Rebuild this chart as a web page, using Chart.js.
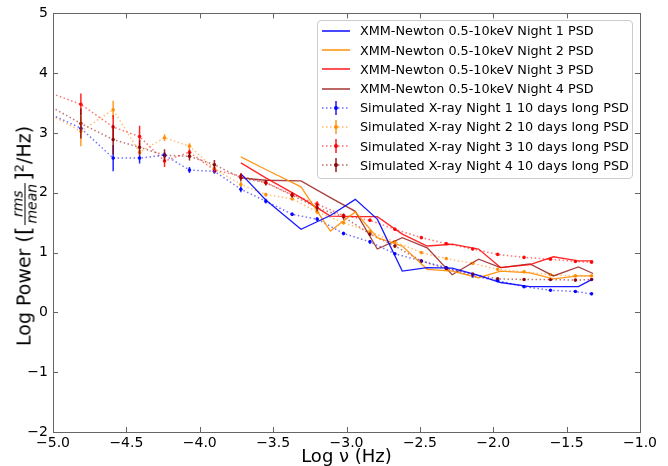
<!DOCTYPE html>
<html>
<head>
<meta charset="utf-8">
<script src="https://cdn.jsdelivr.net/npm/chart.js@4.4.0/dist/chart.umd.min.js"></script>
<style>
  html, body { margin: 0; padding: 0; background: #fff; }
  #wrap { position: relative; width: 668px; height: 466px; font-family: "DejaVu Sans", sans-serif; color: #000; }
  #chart { position: absolute; left: 0; top: 0; }
  #ytitle {
    position: absolute; left: 25px; top: 236px;
    transform: translate(-50%, -50%) rotate(-90deg);
    font-size: 19px; white-space: nowrap; line-height: 1;
  }
  #ytitle .bk { font-size: 22px; }
  #ytitle .frac {
    display: inline-block; vertical-align: middle; text-align: center;
    font-style: italic; font-size: 14px; line-height: 13px; margin: 0 2px;
  }
  #ytitle .frac span { display: block; padding: 0 1px; }
  #ytitle .frac .num { border-bottom: 1px solid #000; }
  #ytitle sup { font-size: 13px; }
  #legend {
    position: absolute; left: 317px; top: 20px; width: 314px;
    padding: 0.4px 0 3px 0; background: rgba(255,255,255,0.85);
    border: 1px solid #ccc; border-radius: 4px;
    font-size: 12.8px;
  }
  #legend .row { height: 19.2px; display: flex; align-items: center; white-space: nowrap; }
  #legend svg { margin-left: 4px; margin-right: 10px; flex: none; }
</style>
</head>
<body>
<div id="wrap">
  <canvas id="chart" width="668" height="466"></canvas>
  <div id="ytitle">Log Power (<span class="bk">[</span><span class="frac"><span class="num">rms</span><span class="den">mean</span></span><span class="bk">]</span><sup>2</sup>/Hz)</div>
  <div id="legend"></div>
</div>
<script>
// Axis ticks
const xTicks = [-5.0, -4.5, -4.0, -3.5, -3.0, -2.5, -2.0, -1.5, -1.0];
const yTicks = [-2, -1, 0, 1, 2, 3, 4, 5];

// XMM-Newton observed PSDs (log frequency, log power)
const xmmX = [-3.72, -3.55, -3.31, -3.11, -2.94, -2.79, -2.62, -2.45, -2.28, -2.10, -1.95, -1.75, -1.59, -1.42, -1.32];
const xmmNight1 = [2.32, 1.88, 1.39, 1.62, 1.89, 1.56, 0.69, 0.75, 0.74, 0.62, 0.50, 0.43, 0.43, 0.43, 0.56];
const xmmNight2 = [2.60, 2.39, 2.10, 1.36, 1.68, 1.25, 1.11, 0.72, 0.69, 0.58, 0.69, 0.66, 0.56, 0.61, 0.61];
const xmmNight3 = [2.50, 2.25, 1.92, 1.61, 1.60, 1.60, 1.31, 1.11, 1.14, 1.06, 0.75, 0.80, 0.93, 0.86, 0.86];
const xmmNight4 = [2.25, 2.21, 2.20, 1.92, 1.69, 1.06, 1.25, 1.08, 0.63, 0.89, 0.75, 0.81, 0.61, 0.76, 0.65];

// Simulated 10 day PSDs, with error bars (first point sits just left of the axis)
const simX = [-5.03, -4.81, -4.59, -4.41, -4.24, -4.07, -3.90, -3.72, -3.55, -3.37, -3.20, -3.02, -2.84, -2.67, -2.49, -2.32, -2.14, -1.97, -1.79, -1.61, -1.44, -1.33];
const simNight1 = [3.33, 3.08, 2.58, 2.58, 2.63, 2.38, 2.36, 2.06, 1.86, 1.64, 1.56, 1.32, 1.18, 0.98, 0.86, 0.75, 0.61, 0.53, 0.43, 0.37, 0.35, 0.31];
const simNight2 = [3.32, 3.03, 3.39, 2.68, 2.92, 2.78, 2.40, 2.14, 1.97, 1.90, 1.68, 1.50, 1.35, 1.18, 1.00, 0.90, 0.82, 0.72, 0.68, 0.63, 0.61, 0.61];
const simNight3 = [3.68, 3.48, 3.10, 2.94, 2.53, 2.68, 2.38, 2.28, 2.17, 1.97, 1.81, 1.62, 1.54, 1.39, 1.25, 1.15, 1.06, 0.97, 0.92, 0.89, 0.85, 0.84];
const simNight4 = [3.46, 3.16, 2.89, 2.76, 2.63, 2.61, 2.47, 2.25, 2.17, 1.96, 1.75, 1.60, 1.31, 1.11, 0.86, 0.73, 0.64, 0.56, 0.55, 0.55, 0.54, 0.55];
const simErr1 = [0.05, 0.05, 0.22, 0.09, 0.05, 0.05, 0.04, 0.05, 0.04, 0.03, 0.03, 0.03, 0.03, 0.02, 0.02, 0.02, 0.02, 0.02, 0.02, 0.02, 0.02, 0.02];
const simErr2 = [0.25, 0.25, 0.15, 0.05, 0.06, 0.05, 0.04, 0.04, 0.03, 0.03, 0.03, 0.03, 0.03, 0.02, 0.02, 0.02, 0.02, 0.02, 0.02, 0.02, 0.02, 0.02];
const simErr3 = [0.18, 0.18, 0.20, 0.18, 0.10, 0.05, 0.05, 0.05, 0.04, 0.04, 0.05, 0.03, 0.03, 0.03, 0.02, 0.02, 0.02, 0.02, 0.02, 0.02, 0.02, 0.02];
const simErr4 = [0.25, 0.25, 0.25, 0.12, 0.10, 0.07, 0.08, 0.06, 0.05, 0.04, 0.06, 0.05, 0.03, 0.03, 0.02, 0.02, 0.02, 0.02, 0.02, 0.02, 0.02, 0.02];

const xmmLabels = [1, 2, 3, 4].map(n => 'XMM-Newton 0.5-10keV Night ' + n + ' PSD');
const simLabels = [1, 2, 3, 4].map(n => 'Simulated X-ray Night ' + n + ' 10 days long PSD');

const xmmColors = ['rgba(0,0,255,0.9)', 'rgba(255,140,0,0.9)', 'rgba(255,0,0,0.85)', 'rgba(139,0,0,0.75)'];
const simRGB = ['0,0,255', '255,140,0', '255,0,0', '139,0,0'];

function pts(xs, ys) {
  return xs.map((x, i) => ({ x: x, y: ys[i] }));
}

const xmmSeries = [xmmNight1, xmmNight2, xmmNight3, xmmNight4];
const simSeries = [simNight1, simNight2, simNight3, simNight4];
const simErrs = [simErr1, simErr2, simErr3, simErr4];

const datasets = [];
xmmSeries.forEach((s, i) => {
  datasets.push({
    label: xmmLabels[i],
    data: pts(xmmX, s),
    borderColor: xmmColors[i],
    borderWidth: 1.3,
    pointRadius: 0,
    tension: 0,
    fill: false
  });
});
simSeries.forEach((s, i) => {
  datasets.push({
    label: simLabels[i],
    data: pts(simX, s),
    errors: simErrs[i],
    borderColor: 'rgba(' + simRGB[i] + ',0.55)',
    borderWidth: 1.5,
    borderDash: [1.5, 2.5],
    pointRadius: 1.8,
    pointBorderWidth: 0,
    pointBackgroundColor: 'rgba(' + simRGB[i] + ',0.9)',
    tension: 0,
    fill: false
  });
});

function fmt(v, d) {
  const s = Math.abs(v).toFixed(d);
  return (v < 0 ? '\u2212' : '') + s;
}

// vertical error bars on simulated points
const errorBars = {
  id: 'errorBars',
  afterDatasetsDraw(chart) {
    const { ctx, chartArea: a, scales: { x, y } } = chart;
    ctx.save();
    ctx.beginPath();
    ctx.rect(a.left, a.top, a.right - a.left, a.bottom - a.top);
    ctx.clip();
    chart.data.datasets.forEach((ds, di) => {
      if (!ds.errors) return;
      const rgb = simRGB[di - 4];
      ctx.strokeStyle = 'rgba(' + rgb + ',0.85)';
      ctx.lineWidth = 1.5;
      ds.data.forEach((p, i) => {
        const px = x.getPixelForValue(p.x);
        const y0 = y.getPixelForValue(p.y - ds.errors[i]);
        const y1 = y.getPixelForValue(p.y + ds.errors[i]);
        ctx.beginPath();
        ctx.moveTo(px, y0);
        ctx.lineTo(px, y1);
        ctx.stroke();
      });
    });
    ctx.restore();
  }
};

// frame with inward tick marks on all four sides
const frameTicks = {
  id: 'frameTicks',
  afterDraw(chart) {
    const { ctx, chartArea: a, scales: { x, y } } = chart;
    ctx.save();
    ctx.strokeStyle = '#666';
    ctx.lineWidth = 1;
    ctx.strokeRect(Math.round(a.left) + 0.5, Math.round(a.top) + 0.5, Math.round(a.right - a.left), Math.round(a.bottom - a.top));
    ctx.beginPath();
    xTicks.forEach(t => {
      const px = Math.round(x.getPixelForValue(t)) + 0.5;
      ctx.moveTo(px, a.bottom); ctx.lineTo(px, a.bottom - 5);
      ctx.moveTo(px, a.top); ctx.lineTo(px, a.top + 5);
    });
    yTicks.forEach(t => {
      const py = Math.round(y.getPixelForValue(t)) + 0.5;
      ctx.moveTo(a.left, py); ctx.lineTo(a.left + 5, py);
      ctx.moveTo(a.right, py); ctx.lineTo(a.right - 5, py);
    });
    ctx.stroke();
    ctx.restore();
  }
};

new Chart(document.getElementById('chart'), {
  type: 'line',
  data: { datasets: datasets },
  options: {
    responsive: false,
    animation: false,
    layout: { padding: { left: 0, top: 12, right: 28, bottom: 0 } },
    plugins: {
      legend: { display: false },
      tooltip: { enabled: false }
    },
    scales: {
      x: {
        type: 'linear',
        min: -5, max: -1,
        afterBuildTicks: s => { s.ticks = xTicks.map(v => ({ value: v })); },
        afterFit: s => { s.height = 34; },
        ticks: {
          callback: v => fmt(v, 1),
          font: { family: 'DejaVu Sans', size: 14 },
          color: '#000',
          padding: 3,
          maxRotation: 0
        },
        grid: { drawOnChartArea: false, drawTicks: false },
        border: { display: false },
        title: {
          display: true,
          text: 'Log \u03bd (Hz)',
          font: { family: 'DejaVu Sans', size: 18 },
          color: '#000',
          padding: { top: 0, bottom: -2 }
        }
      },
      y: {
        min: -2, max: 5,
        afterBuildTicks: s => { s.ticks = yTicks.map(v => ({ value: v })); },
        afterFit: s => { s.width = 53; },
        ticks: {
          callback: v => fmt(v, 0),
          font: { family: 'DejaVu Sans', size: 14 },
          color: '#000',
          padding: 5
        },
        grid: { drawOnChartArea: false, drawTicks: false },
        border: { display: false }
      }
    }
  },
  plugins: [errorBars, frameTicks]
});

// legend, drawn from the dataset labels
const legend = document.getElementById('legend');
datasets.forEach((ds, i) => {
  const row = document.createElement('div');
  row.className = 'row';
  let svg;
  if (i < 4) {
    svg = '<svg width="28" height="12"><line x1="0" y1="6" x2="28" y2="6" stroke="' + xmmColors[i] + '" stroke-width="1.6"/></svg>';
  } else {
    const rgb = simRGB[i - 4];
    svg = '<svg width="28" height="14">' +
      '<line x1="0" y1="7" x2="28" y2="7" stroke="rgba(' + rgb + ',0.6)" stroke-width="1.5" stroke-dasharray="1.5 2.5"/>' +
      '<line x1="14" y1="0" x2="14" y2="14" stroke="rgba(' + rgb + ',0.9)" stroke-width="1.5"/>' +
      '<circle cx="14" cy="7" r="2" fill="rgba(' + rgb + ',0.95)"/></svg>';
  }
  row.innerHTML = svg + '<span>' + ds.label + '</span>';
  legend.appendChild(row);
});
</script>
</body>
</html>
